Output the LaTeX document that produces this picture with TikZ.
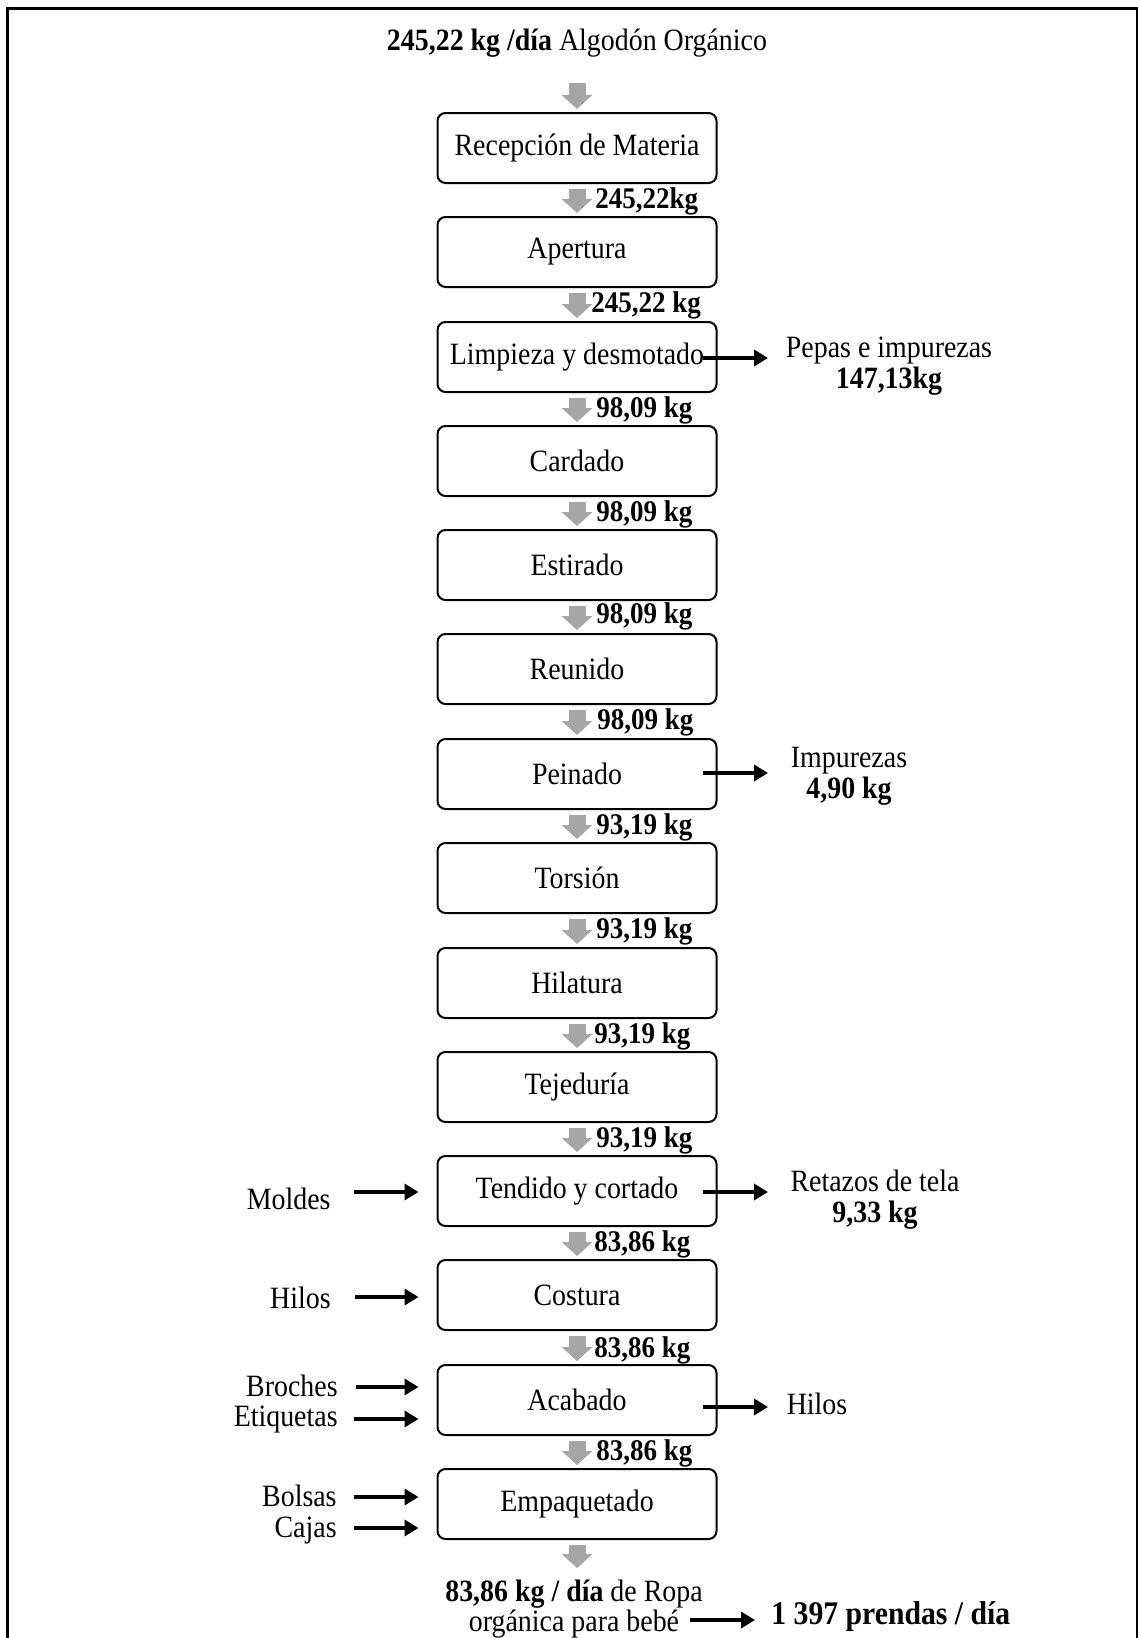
\documentclass[tikz,border=0pt]{standalone}
\usepackage{fontspec}
\setmainfont{Liberation Serif}[FakeStretch=0.9]
\usetikzlibrary{arrows.meta}
\definecolor{agray}{RGB}{166,166,166}
\begin{document}
\begin{tikzpicture}[x=0.5pt,y=-0.5pt,
  procbox/.style={draw, line width=1pt, rounded corners=4pt, minimum width=139.5pt, minimum height=35pt, inner sep=0pt, font=\fontsize{15.5}{17}\selectfont},
  flowlbl/.style={anchor=west, inner sep=0pt, font=\fontsize{15}{16}\selectfont\bfseries},
  garrow/.style={draw=agray, line width=8.5pt, -{Triangle[length=7pt,width=15pt,fill=agray]}, shorten <=2.5pt, shorten >=1.5pt},
  barrow/.style={draw=black, line width=2.2pt, -{Triangle[length=7pt,width=8pt]}},
  txt/.style={inner sep=0pt, font=\fontsize{15.5}{15.5}\selectfont, align=center}]
\useasboundingbox (0,0) rectangle (1138,1638);
\fill[white] (0,0) rectangle (1138,1638);
\draw[line width=1.5pt] (7.5,1660) -- (7.5,8) -- (1137,8) -- (1137,1660);

% title
\node[inner sep=0pt, font=\fontsize{15.5}{17}\selectfont] (title) at (577,43) {\textbf{245,22 kg /día} Algodón Orgánico};

% process boxes
\node[procbox] (b1) at (577,148) {Recepción de Materia};
\node[procbox] (b2) at (577,252) {Apertura};
\node[procbox] (b3) at (577,357) {Limpieza y desmotado};
\node[procbox] (b4) at (577,461) {Cardado};
\node[procbox] (b5) at (577,565) {Estirado};
\node[procbox] (b6) at (577,669) {Reunido};
\node[procbox] (b7) at (577,774) {Peinado};
\node[procbox] (b8) at (577,878) {Torsión};
\node[procbox] (b9) at (577,983) {Hilatura};
\node[procbox] (b10) at (577,1087) {Tejeduría};
\node[procbox] (b11) at (577,1191) {Tendido y cortado};
\node[procbox] (b12) at (577,1295) {Costura};
\node[procbox] (b13) at (577,1400) {Acabado};
\node[procbox] (b14) at (577,1504) {Empaquetado};

% gray flow arrows
\coordinate (t0) at (577,83);
\draw[garrow, shorten <=0pt] (t0) -- (b1);
\foreach \a/\b in {b1/b2,b2/b3,b3/b4,b4/b5,b5/b6,b6/b7,b7/b8,b8/b9,b9/b10,b10/b11,b11/b12,b12/b13,b13/b14}
  \draw[garrow] (\a) -- (\b);
\coordinate (bend) at (577,1568);
\draw[garrow, shorten >=0pt] (b14) -- (bend);

% flow labels
\node[flowlbl] (l1) at (595,201) {245,22kg};
\node[flowlbl] (l2) at (591,305) {245,22 kg};
\node[flowlbl] (l3) at (596,410) {98,09 kg};
\node[flowlbl] (l4) at (596,514) {98,09 kg};
\node[flowlbl] (l5) at (596,616) {98,09 kg};
\node[flowlbl] (l6) at (597,722) {98,09 kg};
\node[flowlbl] (l7) at (596,827) {93,19 kg};
\node[flowlbl] (l8) at (596,931) {93,19 kg};
\node[flowlbl] (l9) at (594,1036) {93,19 kg};
\node[flowlbl] (l10) at (596,1140) {93,19 kg};
\node[flowlbl] (l11) at (594,1244) {83,86 kg};
\node[flowlbl] (l12) at (594,1350) {83,86 kg};
\node[flowlbl] (l13) at (596,1453) {83,86 kg};

% outputs on the right
\node[txt] (o3) at (889,366) {Pepas e impurezas\\\textbf{147,13kg}};
\coordinate (e3) at (768,358);
\draw[barrow] ([xshift=-7.5pt,yshift=-0.5pt]b3.east) -- (e3);
\node[txt] (o7) at (849,776) {Impurezas\\\textbf{4,90 kg}};
\coordinate (e7) at (768,773);
\draw[barrow] ([xshift=-7.5pt,yshift=0.5pt]b7.east) -- (e7);
\node[txt] (o11) at (875,1200) {Retazos de tela\\\textbf{9,33 kg}};
\coordinate (e11) at (768,1192);
\draw[barrow] ([xshift=-7.5pt,yshift=-0.5pt]b11.east) -- (e11);
\node[txt] (o13) at (817,1404) {Hilos};
\coordinate (e13) at (768,1407);
\draw[barrow] ([xshift=-7.5pt,yshift=-3.5pt]b13.east) -- (e13);

% inputs on the left
\node[txt, anchor=east] (i1) at (331,1199) {Moldes};
\coordinate (s1) at (354,1192);
\draw[barrow, shorten >=9pt] (s1) -- (s1 -| b11.west);
\node[txt, anchor=east] (i2) at (331,1298) {Hilos};
\coordinate (s2) at (355,1297);
\draw[barrow, shorten >=9pt] (s2) -- (s2 -| b12.west);
\node[txt, anchor=east, align=right, font=\fontsize{15.5}{15}\selectfont] (i3) at (338,1404) {Broches\\Etiquetas};
\coordinate (s3) at (356,1387);
\draw[barrow, shorten >=9pt] (s3) -- (s3 -| b13.west);
\coordinate (s4) at (354,1419);
\draw[barrow, shorten >=9pt] (s4) -- (s4 -| b13.west);
\node[txt, anchor=east, align=right, font=\fontsize{15.5}{15.5}\selectfont] (i5) at (337,1515) {Bolsas\\Cajas};
\coordinate (s5) at (354,1497);
\draw[barrow, shorten >=9pt] (s5) -- (s5 -| b14.west);
\coordinate (s6) at (354,1528);
\draw[barrow, shorten >=9pt] (s6) -- (s6 -| b14.west);

% final product
\node[txt, font=\fontsize{15.5}{13.5}\selectfont] (fin) at (574,1609) {\textbf{83,86 kg / día} de Ropa\\orgánica para bebé};
\node[inner sep=0pt, anchor=west, font=\fontsize{16.5}{18}\selectfont\bfseries] (pr) at (771,1617) {1 397 prendas / día};
\coordinate (fs) at (690,1620);
\draw[barrow, shorten >=8pt] (fs) -- (fs -| pr.west);
\end{tikzpicture}
\end{document}
